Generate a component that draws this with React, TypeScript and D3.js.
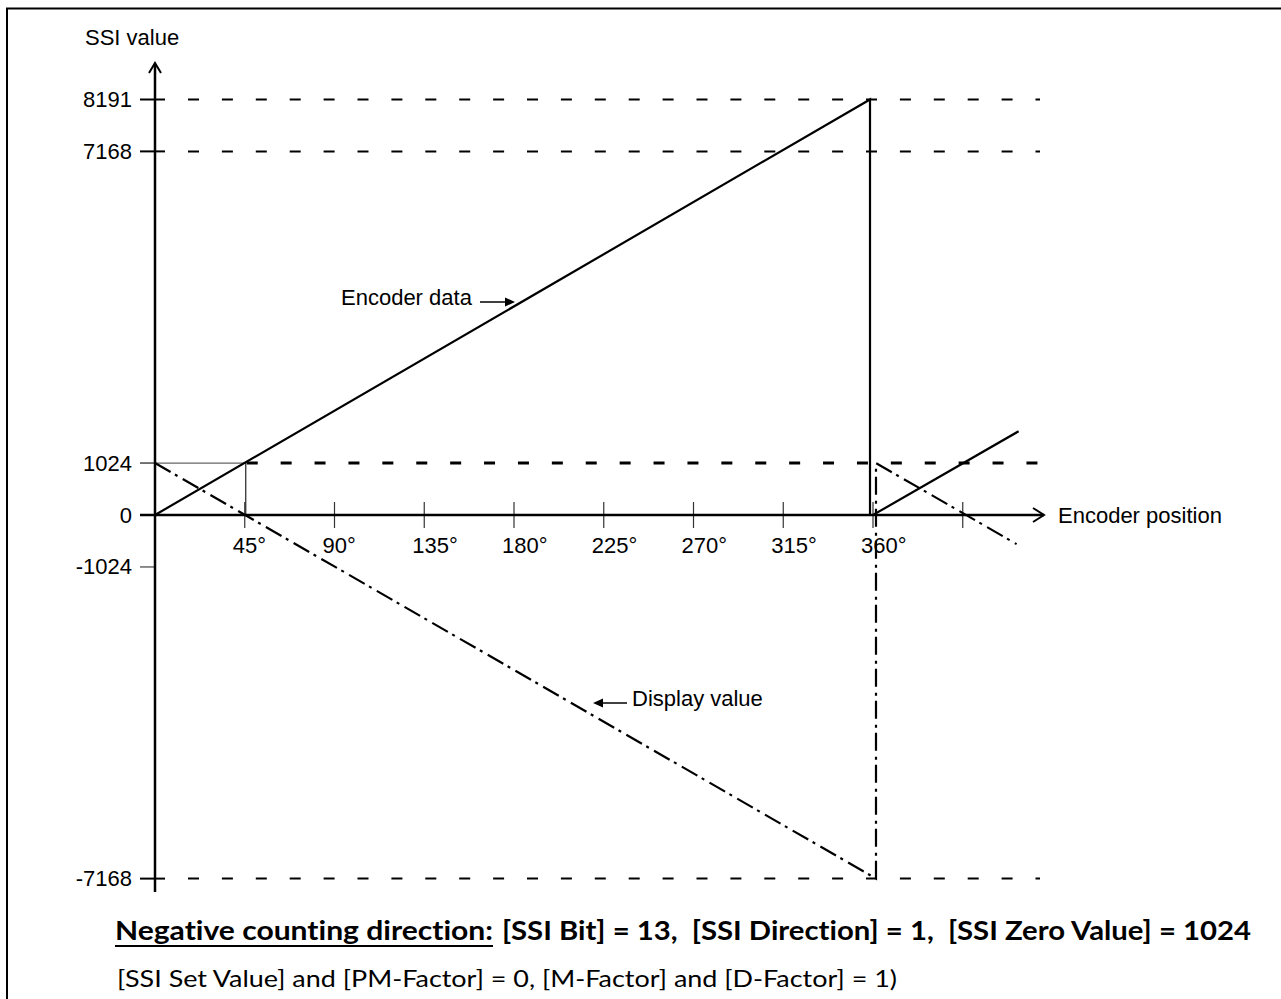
import React from "react";
import * as d3 from "d3";

// ---------- data ----------
const xTickDeg = [45, 90, 135, 180, 225, 270, 315, 360, 405];
const xTickLabels = ["45°", "90°", "135°", "180°", "225°", "270°", "315°", "360°", ""];
const yTickValues = [8191, 7168, 1024, 0, -1024, -7168];
const yTickLabels = ["8191", "7168", "1024", "0", "-1024", "-7168"];
const refLevels = [8191, 7168, -7168];
const zeroValueLevel = 1024;
const encoderDeg = [0, 358.5, 358.5, 360, 433];
const encoderVal = [0, 8191, 0, 0, 1650];
const displayDeg = [0, 361.5, 361.5, 432];
const displayVal = [1024, -7168, 1024, -574];

const W = 1281;
const H = 999;
const SANS = "'Liberation Sans', Arial, sans-serif";
const CAL = "Lato, 'Open Sans', sans-serif";

export default function App() {
  const x = d3.scaleLinear().domain([0, 360]).range([155, 873]);
  const y = d3.scaleLinear().domain([0, 8191]).range([515, 99.5]);

  const encPts: [number, number][] = encoderDeg.map((d, i) => [x(d), y(encoderVal[i])]);
  const dispPts: [number, number][] = displayDeg.map((d, i) => [x(d), y(displayVal[i])]);
  const line = d3.line();

  const x0 = x(0);
  const dashEnd = 1040;
  const dash = "11 22.9";
  const noLig = { fontVariantLigatures: "none" as const, fontFeatureSettings: "'liga' 0, 'clig' 0" };

  return (
    <svg
      width={W}
      height={H}
      viewBox={`0 0 ${W} ${H}`}
      style={{ position: "fixed", left: 0, top: 0, background: "#fff" }}
    >
      <rect x={0} y={0} width={W} height={H} fill="#fff" />
      {/* frame */}
      <rect x={7} y={8.5} width={W + 20} height={H + 20} fill="none" stroke="#000" strokeWidth={2} />

      {/* reference dashed levels */}
      {refLevels.map((v) => (
        <line
          key={"ref" + v}
          x1={x0 + 33}
          x2={dashEnd}
          y1={y(v)}
          y2={y(v)}
          stroke="#000"
          strokeWidth={2}
          strokeDasharray={dash}
        />
      ))}
      {/* 1024 level: thin line to 45°, then heavy dashes */}
      <line x1={140} x2={x(45) + 1} y1={y(zeroValueLevel)} y2={y(zeroValueLevel)} stroke="#666" strokeWidth={1.2} />
      <line x1={x(45) + 1} x2={x(45) + 1} y1={y(zeroValueLevel)} y2={y(0)} stroke="#222" strokeWidth={1.2} />
      <line
        x1={x(45) + 2}
        x2={dashEnd}
        y1={y(zeroValueLevel)}
        y2={y(zeroValueLevel)}
        stroke="#000"
        strokeWidth={3}
        strokeDasharray={dash}
      />

      {/* y ticks */}
      {yTickValues.map((v, i) => {
        const big = Math.abs(v) > 5000;
        const isZero = v === 0;
        return (
          <g key={"yt" + v}>
            {!isZero && (
              <line
                x1={140}
                x2={big ? 165 : x0}
                y1={y(v)}
                y2={y(v)}
                stroke={big ? "#000" : "#666"}
                strokeWidth={big ? 2 : 1.5}
              />
            )}
            <text
              x={132}
              y={y(v) + 7.5}
              textAnchor="end"
              fontFamily={SANS}
              fontSize={22}
              fill="#000"
            >
              {yTickLabels[i]}
            </text>
          </g>
        );
      })}

      {/* x ticks */}
      {xTickDeg.map((d, i) => (
        <g key={"xt" + d}>
          <line x1={x(d)} x2={x(d)} y1={502} y2={528} stroke="#333" strokeWidth={1.2} />
          {xTickLabels[i] && (
            <text x={x(d) - 12} y={553} fontFamily={SANS} fontSize={22} fill="#000">
              {xTickLabels[i]}
            </text>
          )}
        </g>
      ))}

      {/* axes */}
      <line x1={140} x2={1044} y1={y(0)} y2={y(0)} stroke="#000" strokeWidth={2.5} />
      <path d={`M1033,508 L1044,${y(0)} L1033,522`} fill="none" stroke="#000" strokeWidth={2} />
      <line x1={x0} x2={x0} y1={64} y2={892} stroke="#000" strokeWidth={2.5} />
      <path d={`M${x0 - 6},73 L${x0},63 L${x0 + 6},73`} fill="none" stroke="#000" strokeWidth={2} />

      {/* encoder data */}
      <path d={line(encPts) || ""} fill="none" stroke="#000" strokeWidth={2.2} />
      {/* display value */}
      <path
        d={line(dispPts) || ""}
        fill="none"
        stroke="#000"
        strokeWidth={2.2}
        strokeDasharray="18 5 3 6"
      />

      {/* axis titles */}
      <text x={85} y={45} fontFamily={SANS} fontSize={22} fill="#000">
        SSI value
      </text>
      <text x={1058} y={523} fontFamily={SANS} fontSize={22} fill="#000">
        Encoder position
      </text>

      {/* annotations */}
      <text x={341} y={305} fontFamily={SANS} fontSize={22} fill="#000">
        Encoder data
      </text>
      <line x1={480} x2={507} y1={302} y2={302} stroke="#000" strokeWidth={1.5} />
      <path d="M505,297.5 L515,302 L505,306.5 Z" fill="#000" />

      <text x={632} y={706} fontFamily={SANS} fontSize={22} fill="#000">
        Display value
      </text>
      <line x1={627} x2={601} y1={703} y2={703} stroke="#000" strokeWidth={1.5} />
      <path d="M603,698.5 L593,703 L603,707.5 Z" fill="#000" />

      {/* caption */}
      <text
        x={115}
        y={940}
        fontFamily={CAL}
        fontWeight="bold"
        fontSize={27}
        fill="#000"
        textLength={378}
        lengthAdjust="spacingAndGlyphs"
        style={noLig}
      >
        Negative counting direction:
      </text>
      <line x1={115} x2={493} y1={946} y2={946} stroke="#000" strokeWidth={2.2} />
      <text
        x={502}
        y={940}
        fontFamily={CAL}
        fontWeight="bold"
        fontSize={27}
        fill="#000"
        textLength={749}
        lengthAdjust="spacingAndGlyphs"
        style={{ whiteSpace: "pre", ...noLig }}
      >
        {"[SSI Bit] = 13,  [SSI Direction] = 1,  [SSI Zero Value] = 1024"}
      </text>
      <text
        x={117}
        y={987}
        fontFamily={CAL}
        fontSize={23}
        fill="#000"
        textLength={780}
        lengthAdjust="spacingAndGlyphs"
        style={noLig}
      >
        [SSI Set Value] and [PM-Factor] = 0, [M-Factor] and [D-Factor] = 1)
      </text>
    </svg>
  );
}
